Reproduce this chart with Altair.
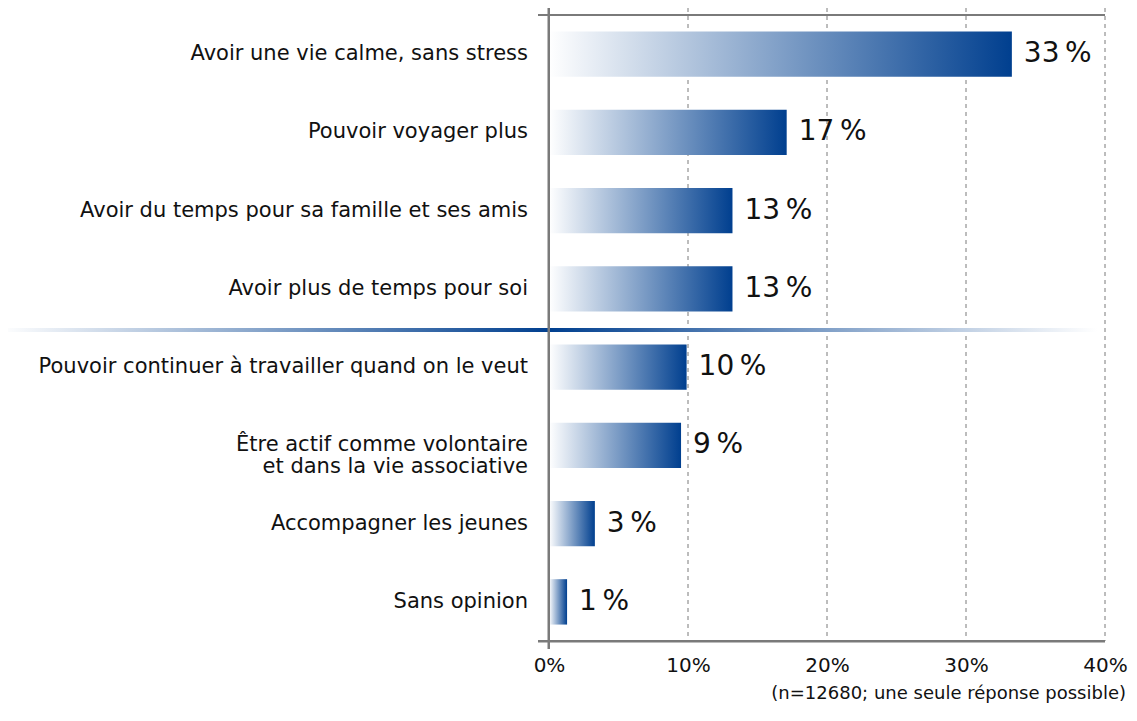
import altair as alt
import pandas as pd

categories = [
    "Avoir une vie calme, sans stress",
    "Pouvoir voyager plus",
    "Avoir du temps pour sa famille et ses amis",
    "Avoir plus de temps pour soi",
    "Pouvoir continuer à travailler quand on le veut",
    "Être actif comme volontaire\net dans la vie associative",
    "Accompagner les jeunes",
    "Sans opinion",
]
values = [33.3, 17.1, 13.2, 13.2, 9.9, 9.5, 3.3, 1.3]
labels = [33, 17, 13, 13, 10, 9, 3, 1]
ticks = [0, 10, 20, 30, 40]
note = "(n=12680; une seule réponse possible)"

FONT = "DejaVu Sans"
W, H = 556, 626
GREY = "#7a7a7a"
DARK = "#003f8f"
TXT = "#111111"

df = pd.DataFrame({
    "cat": categories,
    "value": values,
    "label": [f"{v}\u2009%" for v in labels],
})
grid_df = pd.DataFrame({"x": ticks[1:]})
one = pd.DataFrame({"a": [0]})

yenc = alt.Y("cat:N", sort=None, axis=None,
             scale=alt.Scale(paddingInner=0.42, paddingOuter=0.21))
xscale = alt.Scale(domain=[0, 40], nice=False, zero=True)
XAXIS = alt.Axis(values=ticks, labelExpr="datum.value + '%'", grid=False,
                 domain=False, ticks=False, labelFontSize=20, labelFont=FONT,
                 labelColor=TXT, labelPadding=14, labelFlush=False, title=None)

grad_bar = alt.Gradient(
    gradient="linear",
    stops=[alt.GradientStop(color="#ffffff", offset=0),
           alt.GradientStop(color=DARK, offset=1)],
    x1=0, x2=1, y1=0, y2=0,
)
grad_right = alt.Gradient(
    gradient="linear",
    stops=[alt.GradientStop(color=DARK, offset=0),
           alt.GradientStop(color="#ffffff", offset=1)],
    x1=0, x2=1, y1=0, y2=0,
)

grid = alt.Chart(grid_df).mark_rule(color=GREY, strokeWidth=1, strokeDash=[4, 4]).encode(
    x=alt.X("x:Q", scale=xscale, axis=XAXIS),
    y=alt.value(-7), y2=alt.value(H),
)

sep_left = alt.Chart(one).mark_rect(fill=grad_bar).encode(
    x=alt.value(-549), x2=alt.value(0), y=alt.value(313), y2=alt.value(317))
sep_right = alt.Chart(one).mark_rect(fill=grad_right).encode(
    x=alt.value(0), x2=alt.value(548), y=alt.value(313), y2=alt.value(317))

bars = alt.Chart(df).mark_bar(fill=grad_bar).encode(
    x=alt.X("value:Q", scale=xscale, axis=XAXIS),
    y=yenc,
)

frame_top = alt.Chart(one).mark_rect(fill=GREY).encode(
    x=alt.value(-11), x2=alt.value(W), y=alt.value(-1), y2=alt.value(1))
frame_bottom = alt.Chart(one).mark_rect(fill=GREY).encode(
    x=alt.value(-11), x2=alt.value(W), y=alt.value(H - 1), y2=alt.value(H + 1.5))
frame_left = alt.Chart(one).mark_rect(fill=GREY).encode(
    x=alt.value(-1.5), x2=alt.value(1), y=alt.value(-7), y2=alt.value(H + 8))

cat_text = alt.Chart(df).mark_text(
    align="right", baseline="middle", font=FONT, fontSize=21, color=TXT,
    lineBreak="\n", lineHeight=22,
).encode(x=alt.value(-21), y=yenc, text="cat:N")

val_text = alt.Chart(df).mark_text(
    align="left", baseline="middle", font=FONT, fontSize=28, color=TXT, dx=12,
).encode(x=alt.X("value:Q", scale=xscale, axis=XAXIS), y=yenc, text="label:N")

note_text = alt.Chart(one).mark_text(
    align="right", baseline="middle", font=FONT, fontSize=18, color=TXT,
).encode(x=alt.value(577), y=alt.value(679), text=alt.value(note))

chart = alt.layer(
    grid, sep_left, sep_right, bars, frame_top, frame_bottom, frame_left,
    cat_text, val_text, note_text,
).properties(
    width=W, height=H,
    autosize=alt.AutoSizeParams(type="none"),
    padding={"left": 541, "top": 7, "right": 24, "bottom": 66},
).configure_view(stroke=None)

chart.save("out.html", embed_options={"renderer": "svg", "actions": False})
